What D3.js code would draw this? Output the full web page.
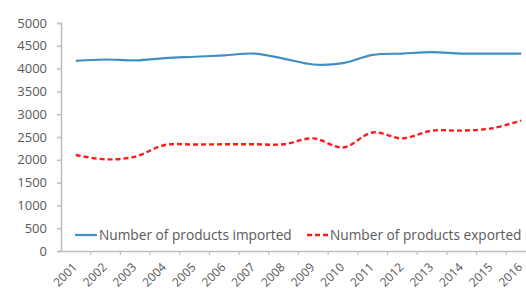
<!DOCTYPE html>
<html><head><meta charset="utf-8">
<script src="https://cdn.jsdelivr.net/npm/d3@7"></script>
<style>body{margin:0;background:#fff;overflow:hidden}svg{display:block}text{font-family:"Open Sans",sans-serif;fill:#595959}</style>
</head><body>
<svg id="c" width="526" height="289"></svg>
<script>
const years = ["2001","2002","2003","2004","2005","2006","2007","2008","2009","2010","2011","2012","2013","2014","2015","2016"];
const imported = [4170,4200,4180,4230,4260,4290,4330,4220,4090,4120,4300,4330,4360,4330,4330,4330];
const exported = [2105,2010,2070,2325,2335,2340,2340,2340,2470,2270,2600,2470,2640,2640,2690,2860];
const yTicks = [0,500,1000,1500,2000,2500,3000,3500,4000,4500,5000];
const seriesNames = ["Number of products imported","Number of products exported"];

(function(){
const svg = d3.select("#c");
const mLeft = 61, mRight = 536, mTop = 23, mBottom = 251;
const x = d3.scaleBand().domain(years).range([mLeft, mRight]);
const y = d3.scaleLinear().domain([0,5000]).range([mBottom, mTop]);
const gridCol = "#bfbfbf";

// y axis
const ya = svg.append("g").attr("transform",`translate(${mLeft},0)`)
  .call(d3.axisLeft(y).tickValues(yTicks).tickSize(4).tickPadding(10).tickFormat(d3.format("d")));
ya.selectAll("path,line").attr("stroke",gridCol).attr("stroke-width",1.5);
ya.selectAll("text").style("font-size","13px").attr("fill","#595959");

// x axis
const xa = svg.append("g").attr("transform",`translate(0,${mBottom})`)
  .call(d3.axisBottom(x).tickSize(0).tickFormat(""));
xa.select("path").attr("stroke",gridCol).attr("stroke-width",1.5);
svg.append("g").selectAll("line").data(years.slice(1)).join("line")
  .attr("x1",d=>x(d)).attr("x2",d=>x(d)).attr("y1",mBottom).attr("y2",mBottom+4)
  .attr("stroke",gridCol).attr("stroke-width",1.2);
svg.append("g").selectAll("text").data(years).join("text")
  .attr("transform",d=>`translate(${x(d)+x.bandwidth()/2+2},${mBottom+17}) rotate(-45)`)
  .attr("text-anchor","end").style("font-size","12px").text(d=>d);

const cx = d => x(d)+x.bandwidth()/2;
const line = d3.line().x((d,i)=>cx(years[i])).y(d=>y(d)).curve(d3.curveCatmullRom.alpha(0.5));
svg.append("path").datum(imported).attr("d",line).attr("fill","none")
  .attr("stroke","#3f8fc3").attr("stroke-width",2.2);
svg.append("path").datum(exported).attr("d",line).attr("fill","none")
  .attr("stroke","#ff1a1a").attr("stroke-width",2.4).attr("stroke-dasharray","5,3");

// legend
const lg = svg.append("g");
lg.append("line").attr("x1",75).attr("x2",97).attr("y1",235).attr("y2",235).attr("stroke","#3f8fc3").attr("stroke-width",2.2);
lg.append("text").attr("x",99).attr("y",240).style("font-size","13.7px").text(seriesNames[0]);
lg.append("line").attr("x1",307).attr("x2",329).attr("y1",235).attr("y2",235).attr("stroke","#ff1a1a").attr("stroke-width",2.4).attr("stroke-dasharray","5,3");
lg.append("text").attr("x",330).attr("y",240).style("font-size","13.7px").text(seriesNames[1]);
})();
</script>
</body></html>
